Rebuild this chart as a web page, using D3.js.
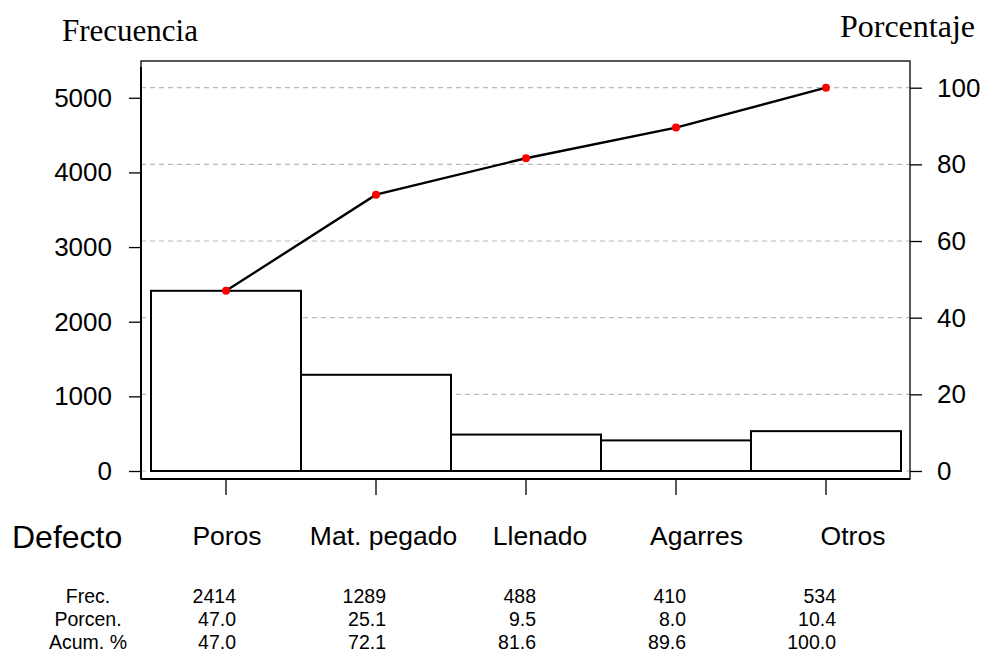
<!DOCTYPE html>
<html>
<head>
<meta charset="utf-8">
<script src="https://cdn.jsdelivr.net/npm/d3@7"></script>
<style>
	body { margin: 0; background: #fff; }
	text { font-family: 'Liberation Sans', Arial, sans-serif; fill: #000; }
	.serif { font-family: 'Liberation Serif', 'Times New Roman', serif; }
</style>
</head>
<body>
<div id="chart"></div>
<script>
// datos del diagrama de Pareto
const defectos = ["Poros", "Mat. pegado", "Llenado", "Agarres", "Otros"];
const frecuencia = [2414, 1289, 488, 410, 534];
const porcentaje = [47.0, 25.1, 9.5, 8.0, 10.4];
const acumulado = [47.0, 72.1, 81.6, 89.6, 100.0];
const ticksFrec = [0, 1000, 2000, 3000, 4000, 5000];
const ticksPorc = [0, 20, 40, 60, 80, 100];
const filas = ["Frec.", "Porcen.", "Acum. %"];

const width = 986, height = 666;
const total = d3.sum(frecuencia);
const frame = {left: 141, right: 910, top: 61, bottom: 479};

let svg = d3.select('#chart').append('svg')
			.attr('width', width)
			.attr('height', height);

let x = d3.scaleBand()
		.domain(defectos)
		.range([151, 901])
		.padding(0);
let yL = d3.scaleLinear().domain([0, total]).range([471, 87.7]);
let yR = d3.scaleLinear().domain([0, 100]).range([471, 87.7]);

// rejilla (sigue al eje de porcentaje)
svg.append('g')
	.selectAll('line')
	.data(ticksPorc)
	.enter().append('line')
	.attr('x1', frame.left).attr('x2', frame.right)
	.attr('y1', d => yR(d)).attr('y2', d => yR(d))
	.style('stroke', '#bbb')
	.style('stroke-width', 1.2)
	.style('stroke-dasharray', '5,4');

// barras
svg.append('g')
	.selectAll('rect')
	.data(defectos)
	.enter().append('rect')
	.attr('x', d => x(d))
	.attr('y', (d, i) => yL(frecuencia[i]))
	.attr('width', x.bandwidth())
	.attr('height', (d, i) => yL(0) - yL(frecuencia[i]))
	.style('fill', '#fff')
	.style('stroke', '#000')
	.style('stroke-width', 2);

// marco
svg.append('rect')
	.attr('x', frame.left).attr('y', frame.top)
	.attr('width', frame.right - frame.left)
	.attr('height', frame.bottom - frame.top)
	.style('fill', 'none')
	.style('stroke', '#222')
	.style('stroke-width', 1.5);
svg.append('line')
	.attr('x1', frame.left).attr('x2', frame.right)
	.attr('y1', frame.bottom).attr('y2', frame.bottom)
	.style('stroke', '#000').style('stroke-width', 2);

// ejes
let axisL = svg.append('g')
	.attr('transform', `translate(${frame.left},0)`)
	.call(d3.axisLeft(yL).tickValues(ticksFrec).tickFormat(d3.format('d'))
		.tickSize(12).tickPadding(17));
let axisR = svg.append('g')
	.attr('transform', `translate(${frame.right},0)`)
	.call(d3.axisRight(yR).tickValues(ticksPorc).tickSize(12).tickPadding(15));
let axisB = svg.append('g')
	.attr('transform', `translate(0,${frame.bottom})`)
	.call(d3.axisBottom(x).tickSize(16).tickFormat(''));
[axisL, axisR, axisB].forEach(function(a) {
	a.select('.domain').remove();
	a.selectAll('line').style('stroke', '#000').style('stroke-width', 1.3);
	a.selectAll('text')
		.style('font-size', '26px')
		.style('font-family', "'Liberation Sans', Arial, sans-serif");
});
svg.append('line')
	.attr('x1', frame.left).attr('x2', frame.left)
	.attr('y1', 67).attr('y2', frame.bottom)
	.style('stroke', '#000').style('stroke-width', 2);

// curva acumulada
let line = d3.line()
	.x((d, i) => x(defectos[i]) + x.bandwidth() / 2)
	.y(d => yR(d));
svg.append('path')
	.datum(acumulado)
	.attr('d', line)
	.style('fill', 'none')
	.style('stroke', '#000')
	.style('stroke-width', 2.4);
svg.append('g')
	.selectAll('circle')
	.data(acumulado)
	.enter().append('circle')
	.attr('cx', (d, i) => x(defectos[i]) + x.bandwidth() / 2)
	.attr('cy', d => yR(d))
	.attr('r', 4)
	.style('fill', '#f00');

// titulos de ejes
svg.append('text').attr('class', 'serif')
	.attr('x', 62).attr('y', 41)
	.style('font-size', '31px')
	.text('Frecuencia');
svg.append('text').attr('class', 'serif')
	.attr('x', 975).attr('y', 37)
	.attr('text-anchor', 'end')
	.style('font-size', '32px')
	.text('Porcentaje');

// tabla inferior
let xLab = d3.scalePoint().domain(defectos).range([227, 853]);
svg.append('text')
	.attr('x', 12).attr('y', 548)
	.style('font-size', '32px')
	.text('Defecto');
svg.append('g')
	.selectAll('text')
	.data(defectos)
	.enter().append('text')
	.attr('x', d => xLab(d))
	.attr('y', 545)
	.attr('text-anchor', 'middle')
	.style('font-size', '26.5px')
	.text(d => d);

let filasY = [603, 626, 649];
let valores = [
	frecuencia.map(d => String(d)),
	porcentaje.map(d => d.toFixed(1)),
	acumulado.map(d => d.toFixed(1))
];
filas.forEach(function(f, r) {
	svg.append('text')
		.attr('x', 88).attr('y', filasY[r])
		.attr('text-anchor', 'middle')
		.style('font-size', '19.5px')
		.text(f);
	svg.append('g')
		.selectAll('text')
		.data(valores[r])
		.enter().append('text')
		.attr('x', (d, i) => x(defectos[i]) + x.bandwidth() / 2 + 10)
		.attr('y', filasY[r])
		.attr('text-anchor', 'end')
		.style('font-size', '19.5px')
		.text(d => d);
});
</script>
</body>
</html>
